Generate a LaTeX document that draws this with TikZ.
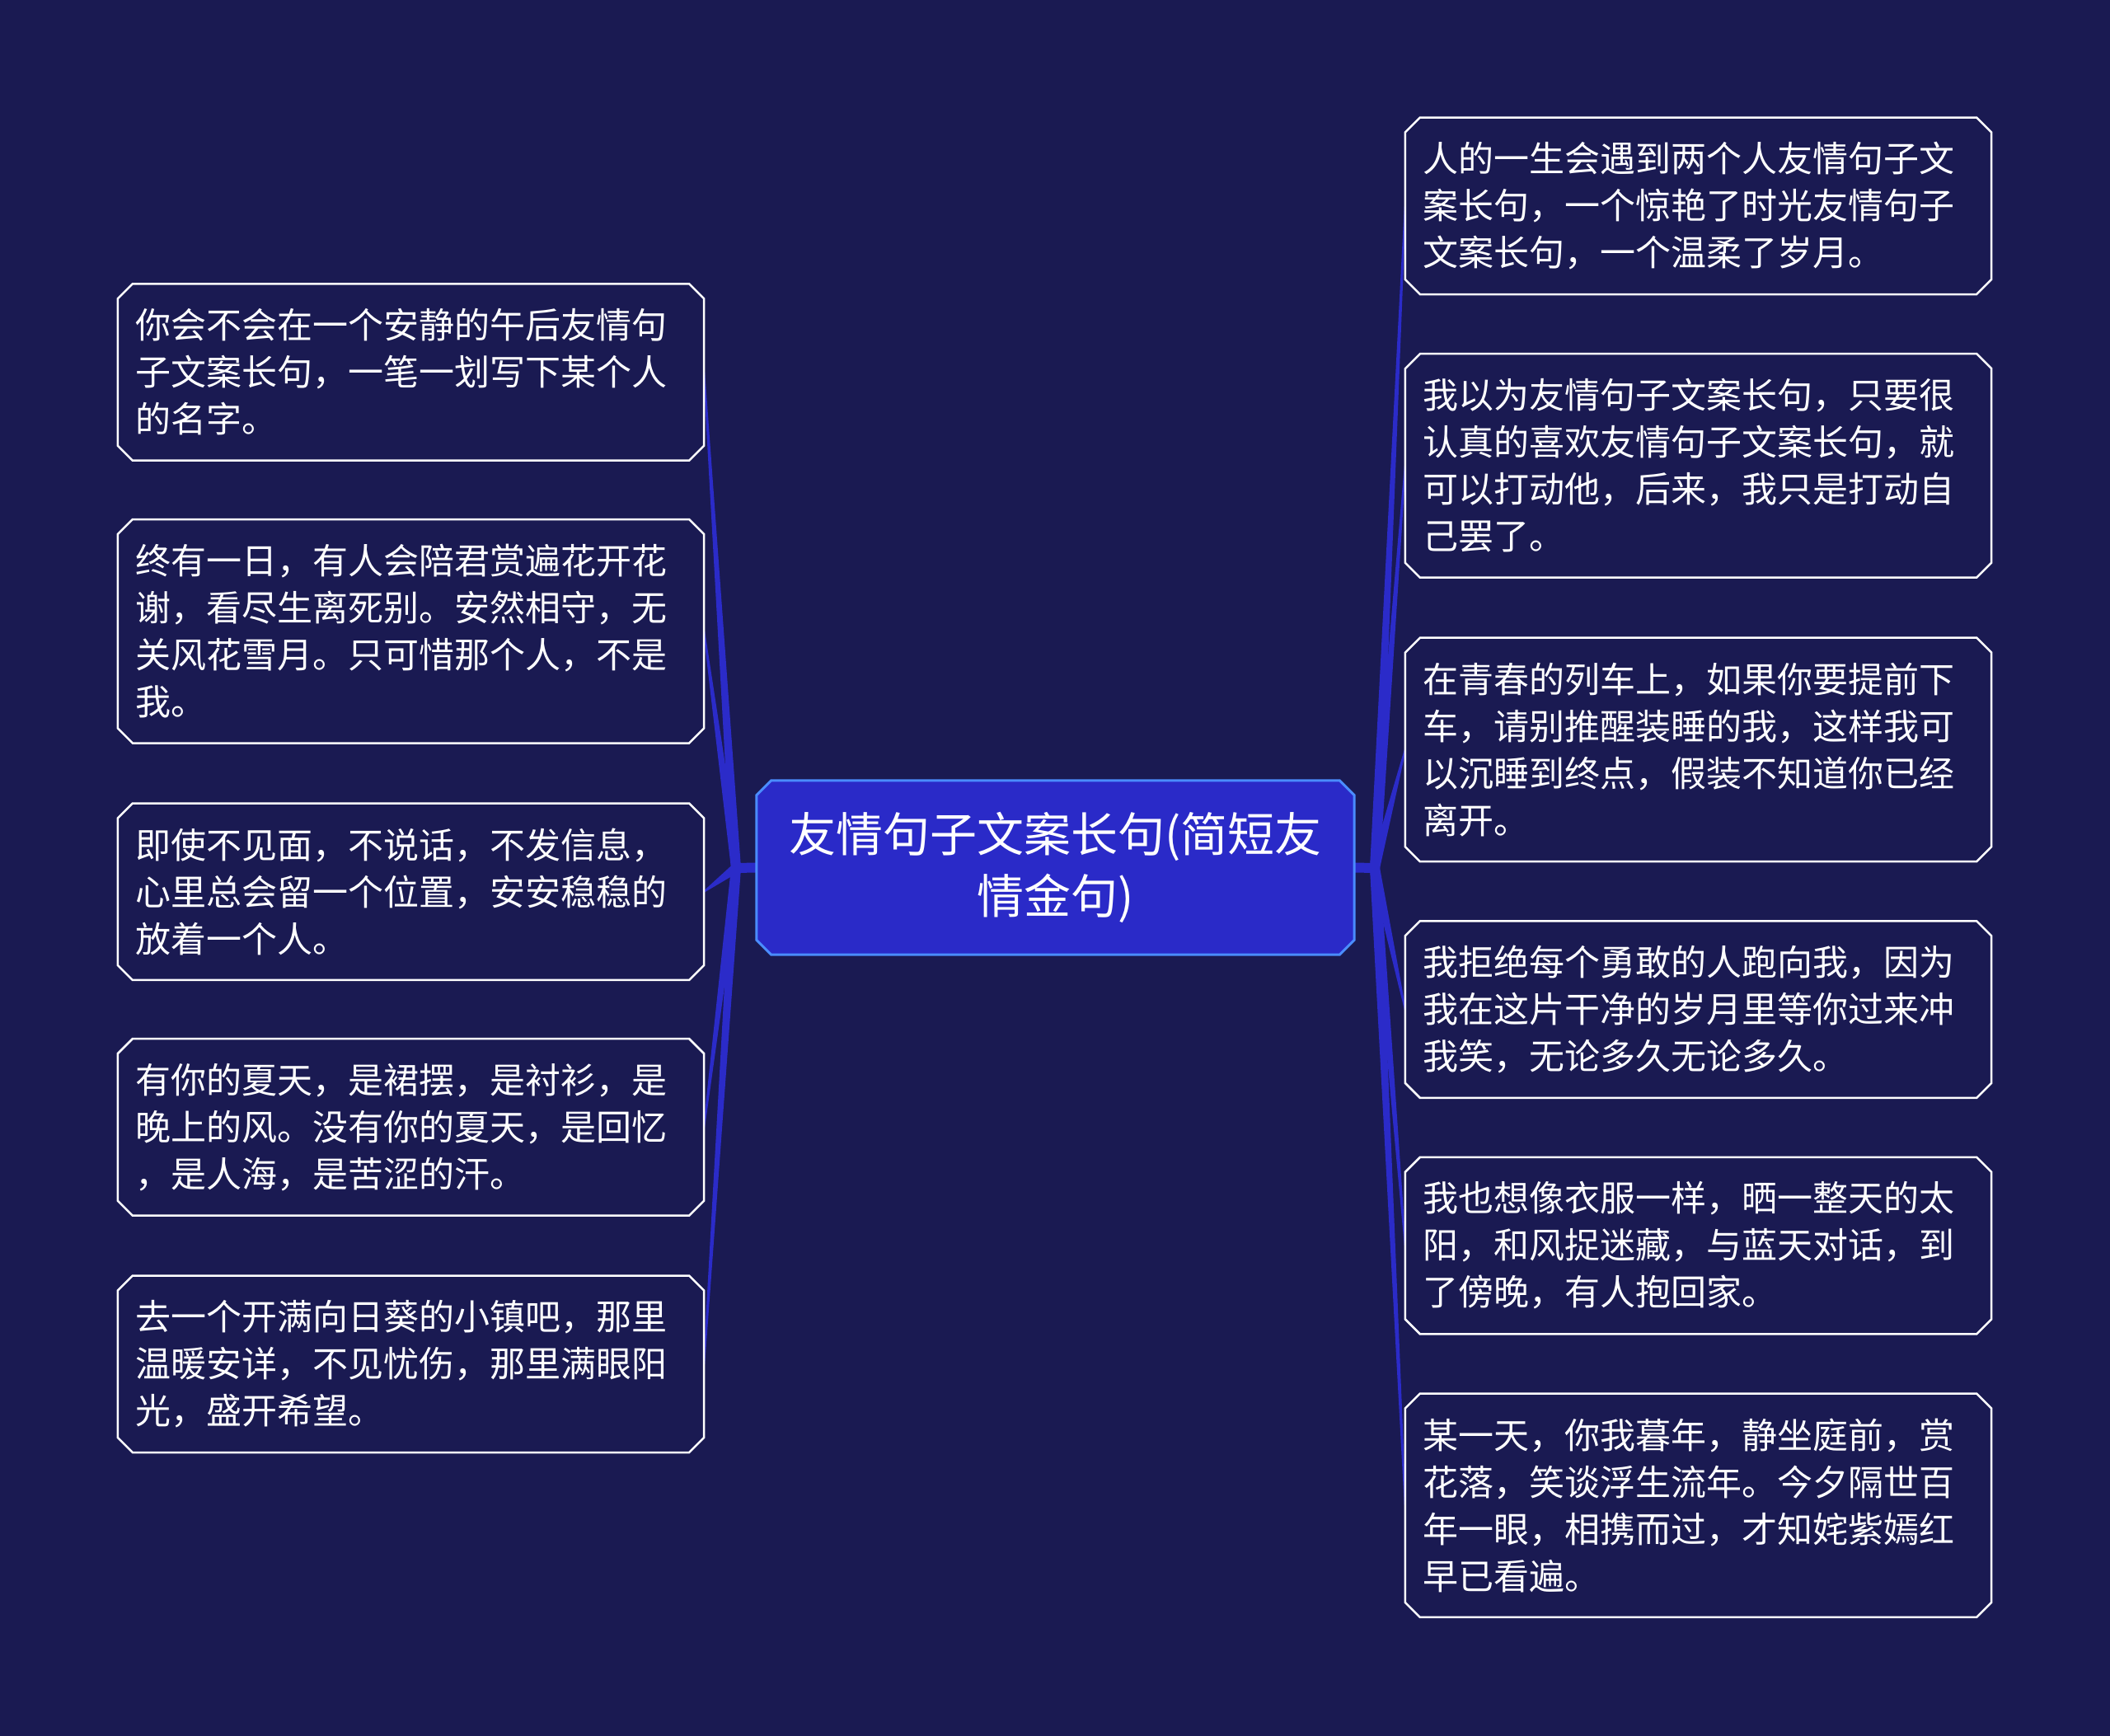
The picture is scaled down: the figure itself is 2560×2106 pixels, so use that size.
\documentclass[tikz,border=0pt]{standalone}
\usepackage{fontspec}
\setmainfont{Noto Sans CJK SC}
\usetikzlibrary{calc,backgrounds}
\definecolor{bg}{HTML}{1A1A52}
\definecolor{hubfill}{HTML}{2A2AC8}
\definecolor{hubline}{HTML}{4A8CFF}
\definecolor{conn}{HTML}{2B2BC9}
\newcommand{\chamfpath}[2]{%
  \path[#2] ([xshift=18pt]#1.north west) -- ([xshift=-18pt]#1.north east)
    -- ([yshift=-18pt]#1.north east) -- ([yshift=18pt]#1.south east)
    -- ([xshift=-18pt]#1.south east) -- ([xshift=18pt]#1.south west)
    -- ([yshift=18pt]#1.south west) -- ([yshift=-18pt]#1.north west) -- cycle;}
\newcommand{\taper}[2]{%
  \fill[conn] ($(#1)!6pt!90:(#2)$) -- ($(#2)!1pt!-90:(#1)$) -- ($(#2)!1pt!90:(#1)$) -- ($(#1)!6pt!-90:(#2)$) -- cycle;}
\tikzset{
  leaf/.style={text=white, font=\fontsize{43pt}{57pt}\selectfont, align=left,
    text width=669pt, inner xsep=21pt, inner ysep=0pt, anchor=center},
  leafthree/.style={leaf, minimum height=214pt},
  leaffour/.style={leaf, minimum height=271pt},
  hubnode/.style={text=white, font=\fontsize{57pt}{75pt}\selectfont, align=center,
    minimum width=725pt, minimum height=211pt, inner sep=0pt},
  leafbox/.style={fill=bg, draw=white, line width=2.5pt, line join=miter},
  hubbox/.style={fill=hubfill, draw=hubline, line width=3pt}
}
\begin{document}
\begin{tikzpicture}[x=1pt,y=-1pt]
\useasboundingbox (0,0) rectangle (2560,2106);
\node[hubnode] (C) at (1280.5,1052.5) {友情句子文案长句(简短友\\情金句)};
\node[leafthree] (L1) at (498.5,451.5) {你会不会在一个安静的午后友情句\\子文案长句，一笔一划写下某个人\\的名字。};
\node[leaffour] (L2) at (498.5,765.8) {终有一日，有人会陪君赏遍花开花\\谢，看尽生离死别。安然相守，无\\关风花雪月。只可惜那个人，不是\\我。};
\node[leafthree] (L3) at (498.5,1081.7) {即使不见面，不说话，不发信息，\\心里总会留一个位置，安安稳稳的\\放着一个人。};
\node[leafthree] (L4) at (498.5,1367.4) {有你的夏天，是裙摆，是衬衫，是\\晚上的风。没有你的夏天，是回忆\\，是人海，是苦涩的汗。};
\node[leafthree] (L5) at (498.5,1654.8) {去一个开满向日葵的小镇吧，那里\\温暖安详，不见忧伤，那里满眼阳\\光，盛开希望。};
\node[leafthree] (R1) at (2060.5,249.8) {人的一生会遇到两个人友情句子文\\案长句，一个惊艳了时光友情句子\\文案长句，一个温柔了岁月。};
\node[leaffour] (R2) at (2060.5,564.9) {我以为友情句子文案长句，只要很\\认真的喜欢友情句子文案长句，就\\可以打动他，后来，我只是打动自\\己罢了。};
\node[leaffour] (R3) at (2060.5,909.4) {在青春的列车上，如果你要提前下\\车，请别推醒装睡的我，这样我可\\以沉睡到终点，假装不知道你已经\\离开。};
\node[leafthree] (R4) at (2060.5,1224.6) {我拒绝每个勇敢的人跑向我，因为\\我在这片干净的岁月里等你过来冲\\我笑，无论多久无论多久。};
\node[leafthree] (R5) at (2060.5,1511.1) {我也想像衣服一样，晒一整天的太\\阳，和风捉迷藏，与蓝天对话，到\\了傍晚，有人抱回家。};
\node[leaffour] (R6) at (2060.5,1826.2) {某一天，你我暮年，静坐庭前，赏\\花落，笑谈浮生流年。今夕隔世百\\年一眼，相携而过，才知姹紫嫣红\\早已看遍。};
\coordinate (JL) at (893,1053);
\coordinate (JR) at (1668,1053);
\begin{pgfonlayer}{background}
\fill[bg] (0,0) rectangle (2560,2106);
\draw[conn, line width=12pt] (C.west) -- (JL);
\draw[conn, line width=12pt] (C.east) -- (JR);
\foreach \n in {L1,L2,L3,L4,L5}{\taper{JL}{\n.east}}
\foreach \n in {R1,R2,R3,R4,R5,R6}{\taper{JR}{\n.west}}
\foreach \n in {L1,L2,L3,L4,L5,R1,R2,R3,R4,R5,R6}{\chamfpath{\n}{leafbox}}
\chamfpath{C}{hubbox}
\end{pgfonlayer}
\end{tikzpicture}
\end{document}
